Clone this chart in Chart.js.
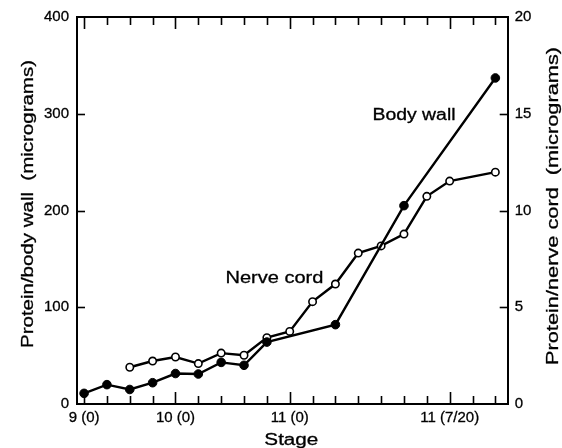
<!DOCTYPE html>
<html>
<head>
<meta charset="utf-8">
<script src="https://cdn.jsdelivr.net/npm/chart.js@4"></script>
<style>
  html, body { margin: 0; padding: 0; background: #fff; }
  canvas { display: block; }
</style>
</head>
<body>
<canvas id="chart" width="562" height="448"></canvas>
<script>
// stage axis: one tick per sampling step, 4 of them carry a stage label
const stageTickCount = 19;
const stageLabelAt = [0, 4, 9, 16];
const stageLabels = ['9 (0)', '10 (0)', '11 (0)', '11 (7/20)'];

// body wall protein, left axis (micrograms)
const bodyWallX = [0, 1, 2, 3, 4, 5, 6, 7, 8, 11, 14, 18];
const bodyWallY = [11, 20, 15, 22, 31.5, 31, 43, 40, 64, 82, 205, 337];

// nerve cord protein, right axis (micrograms)
const nerveCordX = [2, 3, 4, 5, 6, 7, 8, 9, 10, 11, 12, 13, 14, 15, 16, 18];
const nerveCordY = [1.9, 2.22, 2.43, 2.09, 2.63, 2.52, 3.43, 3.75, 5.29, 6.2, 7.8, 8.17, 8.78, 10.73, 11.52, 11.98];

const leftTicks = [0, 100, 200, 300, 400];
const rightTicks = [0, 5, 10, 15, 20];

const FONT = '"Liberation Sans", Arial, sans-serif';

// text is wider than a normal sans in the scan, so squeeze it to width
function wideText(ctx, text, x, y, size, width, rot) {
  ctx.save();
  ctx.font = size + 'px ' + FONT;
  const w = ctx.measureText(text).width;
  ctx.translate(x, y);
  ctx.rotate(rot || 0);
  ctx.scale(width / w, 1);
  ctx.textAlign = 'center';
  ctx.textBaseline = 'alphabetic';
  ctx.fillStyle = '#000';
  ctx.strokeStyle = '#000';
  ctx.lineWidth = 0.3;
  ctx.fillText(text, 0, 0);
  ctx.strokeText(text, 0, 0);
  ctx.restore();
}

const frame = {
  id: 'frame',
  afterDraw(chart) {
    const ctx = chart.ctx;
    const a = chart.chartArea;
    const sx = chart.scales.x, sl = chart.scales.y, sr = chart.scales.y2;
    ctx.save();
    ctx.strokeStyle = '#000';
    ctx.lineWidth = 2;
    // top border
    ctx.beginPath();
    ctx.moveTo(a.left - 1, a.top);
    ctx.lineTo(a.right + 1, a.top);
    ctx.stroke();
    // inward ticks, top and bottom
    ctx.lineWidth = 1.6;
    for (let i = 0; i < stageTickCount; i++) {
      const px = Math.round(sx.getPixelForValue(i)) + 0.5;
      const len = stageLabelAt.includes(i) ? 12 : 8;
      ctx.beginPath();
      ctx.moveTo(px, a.bottom);
      ctx.lineTo(px, a.bottom - len);
      ctx.moveTo(px, a.top);
      ctx.lineTo(px, a.top + len);
      ctx.stroke();
    }
    leftTicks.slice(1, -1).forEach(v => {
      const py = Math.round(sl.getPixelForValue(v)) + 0.5;
      ctx.beginPath();
      ctx.moveTo(a.left, py);
      ctx.lineTo(a.left + 8, py);
      ctx.stroke();
    });
    rightTicks.slice(1, -1).forEach(v => {
      const py = Math.round(sr.getPixelForValue(v)) + 0.5;
      ctx.beginPath();
      ctx.moveTo(a.right, py);
      ctx.lineTo(a.right - 8, py);
      ctx.stroke();
    });
    ctx.restore();

    // axis titles
    wideText(ctx, 'Stage', (a.left + a.right) / 2 - 1, 444.5, 16, 54, 0);
    wideText(ctx, 'Protein/body wall  (micrograms)', 33, 204, 17, 288, -Math.PI / 2);
    wideText(ctx, 'Protein/nerve cord  (micrograms)', 558, 206, 17, 318, -Math.PI / 2);

    // curve labels, anchored in data space
    wideText(ctx, 'Body wall', sx.getPixelForValue(14.44), sl.getPixelForValue(294), 16, 83, 0);
    wideText(ctx, 'Nerve cord', sx.getPixelForValue(8.33), sl.getPixelForValue(125), 17, 98, 0);
  }
};

const tickFont = { family: FONT, size: 15 };

new Chart(document.getElementById('chart'), {
  type: 'line',
  data: {
    datasets: [
      {
        label: 'Body wall',
        yAxisID: 'y',
        data: bodyWallX.map((x, i) => ({ x: x, y: bodyWallY[i] })),
        borderColor: '#000',
        borderWidth: 2.4,
        pointRadius: 4.3,
        pointBackgroundColor: '#000',
        pointBorderColor: '#000',
        pointBorderWidth: 1,
        tension: 0
      },
      {
        label: 'Nerve cord',
        yAxisID: 'y2',
        data: nerveCordX.map((x, i) => ({ x: x, y: nerveCordY[i] })),
        borderColor: '#000',
        borderWidth: 2.4,
        pointRadius: 3.7,
        pointBackgroundColor: '#fff',
        pointBorderColor: '#000',
        pointBorderWidth: 1.6,
        tension: 0
      }
    ]
  },
  options: {
    responsive: false,
    animation: false,
    layout: { padding: { top: 15 } },
    plugins: { legend: { display: false }, tooltip: { enabled: false } },
    scales: {
      x: {
        type: 'linear',
        min: -0.31,
        max: 18.54,
        afterBuildTicks: s => { s.ticks = stageLabelAt.map(v => ({ value: v })); },
        afterFit: s => { s.height = 44; },
        ticks: {
          autoSkip: false,
          maxRotation: 0,
          padding: 5,
          color: '#000',
          textStrokeColor: '#000',
          textStrokeWidth: 0.3,
          font: tickFont,
          callback: v => stageLabels[stageLabelAt.indexOf(v)]
        },
        grid: { display: false, drawTicks: false },
        border: { color: '#000', width: 2 }
      },
      y: {
        position: 'left',
        min: 0,
        max: 400,
        afterBuildTicks: s => { s.ticks = leftTicks.map(v => ({ value: v })); },
        afterFit: s => { s.width = 77; },
        ticks: { padding: 8, color: '#000', textStrokeColor: '#000', textStrokeWidth: 0.3, font: tickFont },
        grid: { display: false, drawTicks: false },
        border: { color: '#000', width: 2 }
      },
      y2: {
        position: 'right',
        min: 0,
        max: 20,
        afterBuildTicks: s => { s.ticks = rightTicks.map(v => ({ value: v })); },
        afterFit: s => { s.width = 54.3; },
        ticks: { padding: 7, color: '#000', textStrokeColor: '#000', textStrokeWidth: 0.3, font: tickFont },
        grid: { display: false, drawTicks: false },
        border: { color: '#000', width: 2 }
      }
    }
  },
  plugins: [frame]
});
</script>
</body>
</html>
